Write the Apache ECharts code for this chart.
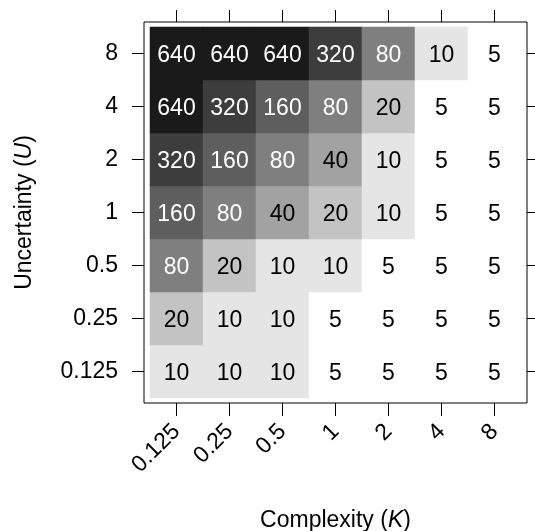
<!DOCTYPE html>
<html><head><meta charset="utf-8">
<script src="https://cdn.jsdelivr.net/npm/echarts@6/dist/echarts.min.js"></script>
<style>html,body{margin:0;padding:0;background:#fff}#c{width:535px;height:531px}</style>
</head><body><div id="c"></div>
<script>
const complexity = ['0.125','0.25','0.5','1','2','4','8'];
const uncertainty = ['0.125','0.25','0.5','1','2','4','8'];
// values per uncertainty row (columns follow complexity order)
const rowU0125 = [10, 10, 10, 5, 5, 5, 5];
const rowU025  = [20, 10, 10, 5, 5, 5, 5];
const rowU05   = [80, 20, 10, 10, 5, 5, 5];
const rowU1    = [160, 80, 40, 20, 10, 5, 5];
const rowU2    = [320, 160, 80, 40, 10, 5, 5];
const rowU4    = [640, 320, 160, 80, 20, 5, 5];
const rowU8    = [640, 640, 640, 320, 80, 10, 5];
const rows = [rowU0125, rowU025, rowU05, rowU1, rowU2, rowU4, rowU8];
const levels = [5, 10, 20, 40, 80, 160, 320, 640];
const shades = ['#ffffff','#e5e5e5','#c3c3c3','#a2a2a2','#7f7f7f','#5e5e5e','#3d3d3d','#1a1a1a'];

const data = [];
rows.forEach((r, yi) => r.forEach((v, xi) => data.push([xi, yi, v])));

const FONT = '"Liberation Sans", Arial, sans-serif';
const FS = 23;
const tick = len => ({show: true, alignWithLabel: true, inside: false, length: len, lineStyle: {color: '#000', width: 1}});
const chart = echarts.init(document.getElementById('c'), null, {renderer: 'canvas'});
chart.setOption({
  animation: false,
  backgroundColor: '#fff',
  textStyle: {fontFamily: FONT},
  grid: [
    {left: 150, right: 14, top: 27, bottom: 133, show: false, containLabel: false, outerBoundsMode: 'none'},
    {left: 144, right: 8, top: 22, bottom: 128, show: true, borderColor: '#000', borderWidth: 1, backgroundColor: 'transparent', containLabel: false, outerBoundsMode: 'none'}
  ],
  xAxis: [
    {type: 'category', gridIndex: 0, position: 'bottom', data: complexity, offset: 5,
     axisLine: {show: true, lineStyle: {color: 'rgba(0,0,0,0)'}}, splitLine: {show: false},
     axisTick: tick(13),
     axisLabel: {rotate: 45, margin: 25, fontSize: FS, color: '#000', fontFamily: FONT},
     name: '{n|Complexity (}{i|K}{n|)}', nameLocation: 'middle', nameGap: 106,
     nameTextStyle: {rich: {n: {fontSize: FS, fontFamily: FONT, color: '#000'}, i: {fontSize: FS, fontFamily: FONT, fontStyle: 'italic', color: '#000'}}}},
    {type: 'category', gridIndex: 0, position: 'top', data: complexity, offset: 5,
     axisLine: {show: true, lineStyle: {color: 'rgba(0,0,0,0)'}}, splitLine: {show: false}, axisLabel: {show: false},
     axisTick: tick(12)},
    {type: 'value', gridIndex: 1, show: false}
  ],
  yAxis: [
    {type: 'category', gridIndex: 0, position: 'left', data: uncertainty, offset: 6,
     axisLine: {show: true, lineStyle: {color: 'rgba(0,0,0,0)'}}, splitLine: {show: false},
     axisTick: tick(12),
     axisLabel: {margin: 26, fontSize: FS, color: '#000', fontFamily: FONT, padding: [4, 0, 0, 0]},
     name: '{n|Uncertainty (}{i|U}{n|)}', nameLocation: 'middle', nameGap: 108,
     nameTextStyle: {rich: {n: {fontSize: FS, fontFamily: FONT, color: '#000'}, i: {fontSize: FS, fontFamily: FONT, fontStyle: 'italic', color: '#000'}}}},
    {type: 'category', gridIndex: 0, position: 'right', data: uncertainty, offset: 6,
     axisLine: {show: true, lineStyle: {color: 'rgba(0,0,0,0)'}}, splitLine: {show: false}, axisLabel: {show: false},
     axisTick: tick(12)},
    {type: 'value', gridIndex: 1, show: false}
  ],
  visualMap: {
    type: 'piecewise', show: false, seriesIndex: 0, dimension: 2,
    pieces: levels.map((v, i) => ({value: v, color: shades[i]}))
  },
  series: [{
    type: 'heatmap', xAxisIndex: 0, yAxisIndex: 0, data: data,
    emphasis: {disabled: true},
    label: {
      show: true, fontFamily: FONT, fontSize: FS, offset: [0, 2],
      formatter: p => (p.value[2] >= 80 ? '{w|' : '{b|') + p.value[2] + '}',
      rich: {w: {color: '#fff', fontSize: FS, fontFamily: FONT}, b: {color: '#000', fontSize: FS, fontFamily: FONT}}
    }
  }]
});
</script></body></html>
